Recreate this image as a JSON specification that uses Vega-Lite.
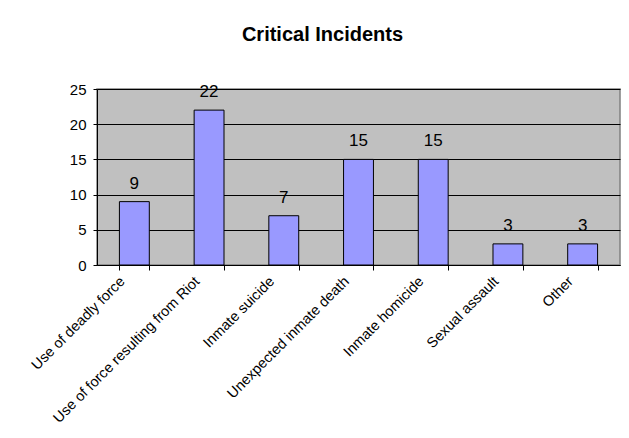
{
  "$schema": "https://vega.github.io/schema/vega-lite/v6.json",
  "width": 523,
  "height": 176,
  "autosize": {"type": "none"},
  "padding": {"left": 97, "top": 89, "right": 9, "bottom": 173},
  "background": "white",
  "title": {
    "text": "Critical Incidents",
    "font": "Liberation Sans",
    "fontSize": 20,
    "fontWeight": "bold",
    "color": "black",
    "anchor": "middle",
    "baseline": "alphabetic",
    "offset": 21,
    "dx": -36
  },
  "data": {
    "values": [
      {"category": "Use of deadly force", "count": 9},
      {"category": "Use of force resulting from Riot", "count": 22},
      {"category": "Inmate suicide", "count": 7},
      {"category": "Unexpected inmate death", "count": 15},
      {"category": "Inmate homicide", "count": 15},
      {"category": "Sexual assault", "count": 3},
      {"category": "Other", "count": 3}
    ]
  },
  "encoding": {
    "x": {
      "field": "category",
      "type": "nominal",
      "sort": null,
      "scale": {"paddingInner": 0.6, "paddingOuter": 0.3},
      "axis": {
        "title": null,
        "labelAngle": -45,
        "labelAlign": "right",
        "labelBaseline": "middle",
        "labelFont": "Liberation Sans",
        "labelFontSize": 14.5,
        "labelColor": "black",
        "labelPadding": 9,
        "labelOffset": -12,
        "labelLimit": 400,
        "tickBand": "extent",
        "tickColor": "black",
        "tickSize": 5,
        "domainColor": "black",
        "grid": false
      }
    },
    "y": {
      "field": "count",
      "type": "quantitative",
      "scale": {"domain": [0, 25], "nice": false},
      "axis": {
        "title": null,
        "values": [0, 5, 10, 15, 20, 25],
        "labelFont": "Liberation Sans",
        "labelFontSize": 15,
        "labelColor": "black",
        "labelPadding": 7,
        "tickColor": "black",
        "tickSize": 4,
        "domainColor": "black",
        "grid": true,
        "gridColor": "black",
        "gridOpacity": 1,
        "gridWidth": 1
      }
    }
  },
  "layer": [
    {
      "mark": {"type": "bar", "color": "#9999FF", "stroke": "black", "strokeWidth": 1}
    },
    {
      "mark": {
        "type": "text",
        "baseline": "alphabetic",
        "dy": -13,
        "font": "Liberation Sans",
        "fontSize": 17,
        "color": "black"
      },
      "encoding": {"text": {"field": "count", "type": "quantitative"}}
    }
  ],
  "config": {
    "view": {"fill": "#C0C0C0", "stroke": "#808080", "strokeWidth": 1.5}
  }
}
